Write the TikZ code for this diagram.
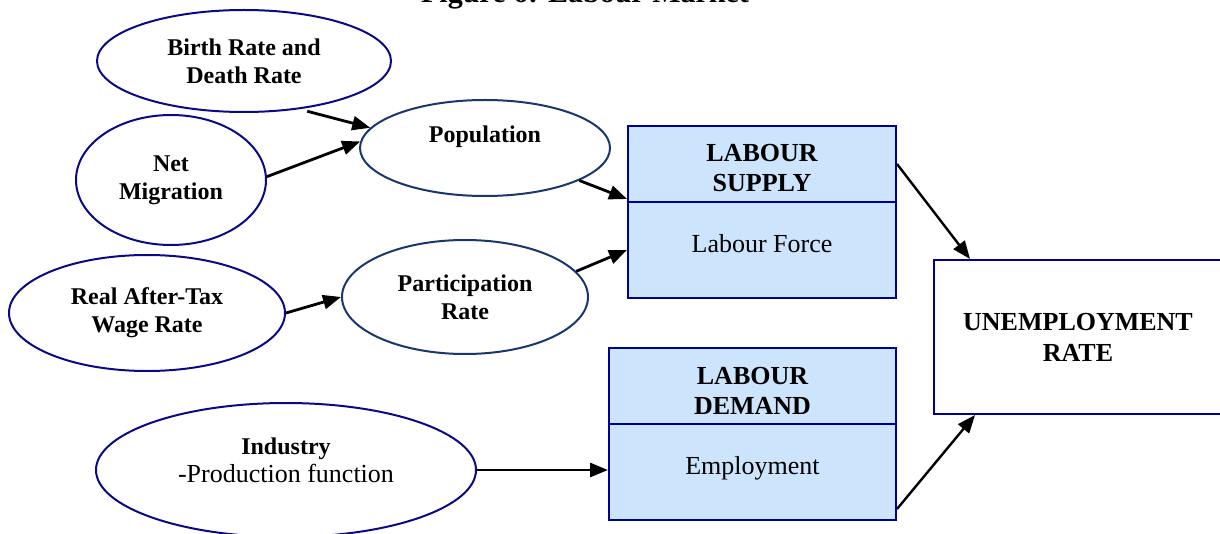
\documentclass[tikz,border=0pt]{standalone}
\usepackage{fontspec}
\setmainfont{Liberation Serif}
\usetikzlibrary{shapes.geometric,arrows.meta}
\newcommand{\lift}[2]{\raisebox{#1}[0pt][0pt]{\begin{tabular}{@{}c@{}}#2\end{tabular}}}
\begin{document}
\begin{tikzpicture}[x=0.5pt,y=-0.5pt,
    oval/.style={ellipse, draw=ovalblue, line width=1pt, inner sep=0pt, align=center,
        font=\fontsize{12}{14}\selectfont\bfseries},
    box/.style={rectangle, draw=boxblue, line width=1pt, fill=boxfill, inner sep=0pt, align=center},
    arr/.style={-{Triangle[length=9pt,width=7pt]}, line width=1.4pt}]

    \definecolor{ovalblue}{RGB}{10, 10, 135}
    \definecolor{popblue}{RGB}{25, 55, 110}
    \definecolor{boxblue}{RGB}{0, 0, 150}
    \definecolor{boxfill}{RGB}{204, 228, 252}
    \useasboundingbox (0,0) rectangle (1220,534);

    % title
    \node[anchor=base, font=\fontsize{15}{18}\selectfont\bfseries] (title) at (585,3) {Figure 6: Labour Market};

    % causes
    \node[oval, minimum width=147pt, minimum height=51pt] (birth) at (244,61) {Birth Rate and\\Death Rate};
    \node[oval, minimum width=95pt, minimum height=65pt] (net) at (171,180) {Net\\Migration};
    \node[oval, draw=popblue, minimum width=125pt, minimum height=48pt] (pop) at (485,148) {Population\\\mbox{}};
    \node[oval, minimum width=138pt, minimum height=58pt] (wage) at (147,313) {Real After-Tax\\Wage Rate};
    \node[oval, draw=popblue, minimum width=123pt, minimum height=57pt] (part) at (465,297) {Participation\\Rate};
    \node[oval, minimum width=190pt, minimum height=67pt] (industry) at (286,470)
        {\lift{0.5pt}{Industry\\\fontsize{13}{14}\selectfont\mdseries -Production function}};

    % supply and demand
    \node[box, minimum width=134pt, minimum height=38pt, font=\fontsize{13}{15}\selectfont\bfseries] (supplyhead) at (762,164) {\lift{-6.5pt}{LABOUR\\SUPPLY}};
    \node[box, minimum width=134pt, minimum height=48pt, font=\fontsize{13}{15}\selectfont] (supplybody) at (762,250) {\raisebox{-1.5pt}[0pt][0pt]{Labour Force}};
    \node[box, minimum width=143.5pt, minimum height=38pt, font=\fontsize{13}{15}\selectfont\bfseries] (demandhead) at (752.5,386) {\lift{-6.5pt}{LABOUR\\DEMAND}};
    \node[box, minimum width=143.5pt, minimum height=48pt, font=\fontsize{13}{15}\selectfont] (demandbody) at (752.5,472) {\raisebox{-1pt}[0pt][0pt]{Employment}};

    % result
    \node[box, fill=white, minimum width=144pt, minimum height=77pt, font=\fontsize{13}{15.5}\selectfont\bfseries] (unemp) at (1078,337) {UNEMPLOYMENT\\RATE};

    % arrows
    \draw[arr, shorten <=4pt] (birth.-41) -- (pop.170);
    \draw[arr] (net.2) -- (pop.177);
    \draw[arr] (wage.east) -- (part.west);
    \draw[arr] (pop.-19) -- ([yshift=2pt]supplyhead.south west);
    \draw[arr] (part.13) -- (supplybody.west);
    \draw[arr] (industry.east) -- (industry.east -| demandbody.west);
    \draw[arr, line width=1.2pt] (supplyhead.east) -- ([xshift=18.5pt]unemp.north west);
    \draw[arr, line width=1.2pt] ([yshift=6pt]demandbody.south east) -- ([xshift=21pt]unemp.south west);

\end{tikzpicture}
\end{document}
